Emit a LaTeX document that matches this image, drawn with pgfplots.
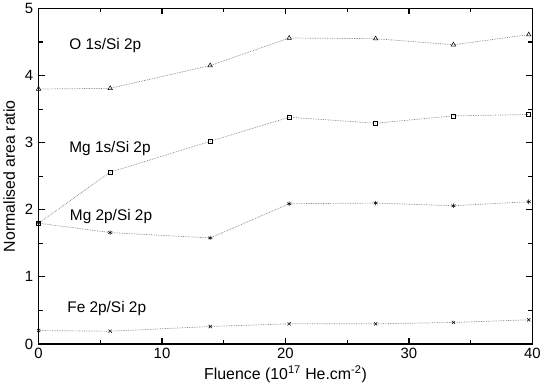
\documentclass[border=0pt]{standalone}
\usepackage{pgfplots}
\pgfplotsset{compat=1.18}
\usepackage{fontspec}
\setmainfont{Liberation Sans}
\begin{document}
\begin{tikzpicture}
\begin{axis}[
  scale only axis,
  width=495.7bp, height=336.7bp,
  xmin=0, xmax=40, ymin=0, ymax=5,
  xtick={0,10,20,30,40}, ytick={0,1,2,3,4,5},
  minor x tick num=1, minor y tick num=1,
  tick align=inside,
  major tick length=6bp, minor tick length=4bp,
  axis line style={line width=1.6bp},
  every tick/.style={black, line width=1.2bp},
  /pgf/number format/assume math mode=true,
  ticklabel style={font=\fontsize{15}{17}\selectfont},
  yticklabel style={xshift=-2bp},
  xticklabel style={yshift=-1bp},
  label style={font=\fontsize{16}{18}\selectfont},
  xlabel={Fluence (10\textsuperscript{17} He.cm\textsuperscript{-2})},
  ylabel={Normalised area ratio},
  xlabel style={yshift=0bp},
  ylabel style={yshift=3bp},
  clip=false,
]
\addplot[densely dotted, gray, line width=0.7bp, mark=triangle, mark size=2.6bp, mark options={solid, black, line width=0.5bp}] coordinates {
(0,3.80) (5.8,3.81) (13.9,4.15) (20.3,4.56) (27.3,4.55) (33.6,4.46) (39.7,4.61)};
\addplot[densely dotted, gray, line width=0.7bp, mark=square, mark size=2bp, mark options={solid, black, line width=0.5bp}] coordinates {
(0,1.80) (5.8,2.56) (13.9,3.02) (20.3,3.38) (27.3,3.29) (33.6,3.40) (39.7,3.42)};
\addplot[densely dotted, gray, line width=0.7bp, mark=asterisk, mark size=2.3bp, mark options={solid, black, line width=0.5bp}] coordinates {
(0,1.80) (5.8,1.66) (13.9,1.58) (20.3,2.09) (27.3,2.10) (33.6,2.06) (39.7,2.12)};
\addplot[densely dotted, gray, line width=0.7bp, mark=x, mark size=2.3bp, mark options={solid, black, line width=0.5bp}] coordinates {
(0,0.20) (5.8,0.19) (13.9,0.26) (20.3,0.30) (27.3,0.30) (33.6,0.32) (39.7,0.36)};
\node[anchor=west, font=\fontsize{15.5}{18}\selectfont, inner sep=0pt] at (axis cs:2.48,4.45) {O 1s/Si 2p};
\node[anchor=west, font=\fontsize{15.5}{18}\selectfont, inner sep=0pt] at (axis cs:2.48,2.91) {Mg 1s/Si 2p};
\node[anchor=west, font=\fontsize{15.5}{18}\selectfont, inner sep=0pt] at (axis cs:2.53,1.90) {Mg 2p/Si 2p};
\node[anchor=west, font=\fontsize{15.5}{18}\selectfont, inner sep=0pt] at (axis cs:2.32,0.53) {Fe 2p/Si 2p};
\end{axis}
\end{tikzpicture}
\end{document}
